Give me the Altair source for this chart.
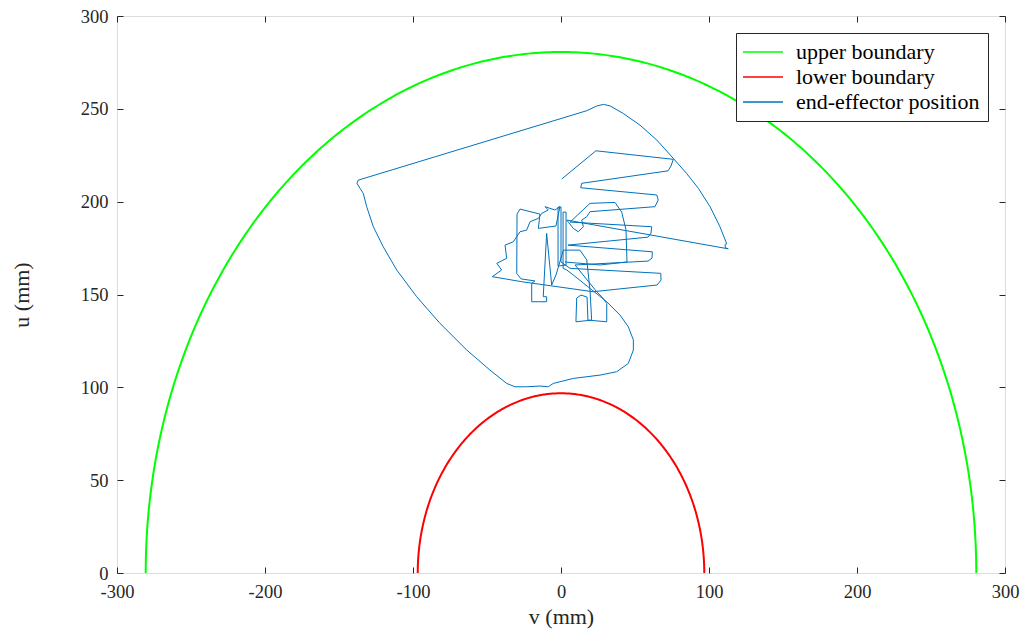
import altair as alt
import numpy as np
import pandas as pd

# ---- data ----
X_TICKS = [-300, -200, -100, 0, 100, 200, 300]
Y_TICKS = [0, 50, 100, 150, 200, 250, 300]
SERIES = ["upper boundary", "lower boundary", "end-effector position"]
COLORS = ["#00FF00", "#FF0000", "#0072BD"]

UPPER_RADIUS = 280.6   # mm, read from the green arc
LOWER_RADIUS = 96.8    # mm, read from the red arc
ARC_DEG = np.linspace(0, 180, 361)

path_v = [0.5, 23.6, 75.9, 74.3, 72.3, 14.0, 13.3, 64.7, 65.7, 63.5,
          19.6, 17.4, 14.0, 15.1, 11.7, 8.3, 3.9,
          113.0, 111.0, 110.9, 112.0, 107.4, 100.7, 92.8, 84.9, 75.9, 64.7,
          53.4, 42.1, 33.1, 28.6, 24.1, 17.4, -137.0, -137.9, -135.8, -133.6,
          -131.3, -126.8, -120.1, -111.0, -97.5, -81.8, -63.7, -48.0, -36.7, -31.1,
          -23.2, -14.2, -8.6, -5.2, 8.3, 26.4, 37.6, 45.5, 48.9, 48.9,
          45.5, 39.9, 30.9, 19.6, 8.3, 3.9,
          1.4, 1.4, 3.4, 3.4, -2.0, -2.0, 0.0, 0.0, 6.1, 67.4,
          67.6, 64.9, 21.6, -26.6, -46.4, -40.1, -43.4, -36.7, -37.8, -32.2,
          -27.7, -23.2, -20.9, -15.3, -13.0, -8.6, -10.8, -4.1, -0.7, -3.4,
          -15.3, -14.2, -27.7, -29.7, -29.9, -27.0, -17.6, -19.8, -19.8, -9.7,
          -9.7, -12.0, -9.7, -6.3, -3.4, 1.6, 12.8, 17.4, 19.6, 20.7,
          10.1, 10.6, 13.5, 17.6, 18.2, 30.9, 30.9, 27.5, 24.1, 9.5,
          58.8, 61.5, 61.7, 4.7, 58.8, 60.8, 61.3, 6.1, 19.6, 36.5,
          41.0, 43.9, 44.6, 26.4, 2.7]
path_u = [212.2, 227.4, 222.8, 219.2, 216.6, 209.9, 207.5, 203.6, 200.9, 197.3,
          194.6, 191.9, 190.1, 186.5, 183.8, 185.6, 190.1,
          174.6, 175.2, 177.0, 177.3, 186.5, 197.3, 207.2, 215.2, 223.3, 233.2,
          241.2, 247.5, 251.6, 252.4, 251.5, 249.0, 211.6, 209.9, 207.2, 204.5,
          197.3, 186.5, 175.7, 163.2, 148.8, 134.5, 120.1, 109.3, 102.1, 100.3,
          100.3, 100.7, 100.3, 102.1, 104.8, 106.6, 108.4, 112.9, 120.1, 125.5,
          132.6, 138.9, 146.1, 153.3, 160.5, 163.2,
          164.2, 194.4, 194.4, 165.9, 165.3, 197.1, 197.1, 167.5, 164.1, 161.4,
          157.8, 155.1, 151.5, 156.9, 159.6, 163.2, 166.8, 169.5, 176.6, 178.4,
          183.8, 184.7, 189.2, 191.0, 193.7, 195.5, 197.3, 195.5, 197.3, 186.9,
          185.6, 193.3, 196.0, 193.3, 161.4, 158.4, 157.3, 156.0, 146.1, 146.1,
          148.8, 148.8, 182.9, 155.1, 160.5, 173.9, 173.9, 168.6, 152.4, 136.2,
          135.3, 148.1, 149.7, 148.6, 136.2, 135.3, 145.2, 148.8, 151.5, 165.9,
          168.0, 169.6, 173.0, 176.6, 180.9, 183.1, 186.5, 189.0, 199.1, 199.6,
          194.4, 184.9, 167.5, 165.9, 167.5]

# ---- tables ----
rad = np.deg2rad(ARC_DEG)
df_upper = pd.DataFrame({"v": UPPER_RADIUS * np.cos(rad), "u": UPPER_RADIUS * np.sin(rad),
                         "series": SERIES[0], "order": np.arange(len(rad))})
df_lower = pd.DataFrame({"v": LOWER_RADIUS * np.cos(rad), "u": LOWER_RADIUS * np.sin(rad),
                         "series": SERIES[1], "order": np.arange(len(rad))})
df_path = pd.DataFrame({"v": path_v, "u": path_u, "series": SERIES[2],
                        "order": np.arange(len(path_v))})

FONT = "Liberation Serif"
TXT = "#262626"
MINUS_FIX = "replace(datum.label, '\u2212', '-')"
xs = alt.Scale(domain=[-300, 300], nice=False, zero=False)
ys = alt.Scale(domain=[0, 300], nice=False, zero=False)

tick_common = dict(offset=-6, tickSize=6, tickColor=TXT, tickWidth=1, domain=False,
                   grid=False, labelFlush=False)

x_enc = alt.X("v:Q", scale=xs, axis=alt.Axis(
    orient="bottom", values=X_TICKS, title="v (mm)", labelPadding=9, labelExpr=MINUS_FIX,
    labelFont=FONT, labelFontSize=18.5, labelColor=TXT,
    titleFont=FONT, titleFontSize=22, titleFontWeight="normal", titleColor=TXT,
    titlePadding=6, **tick_common))
y_enc = alt.Y("u:Q", scale=ys, axis=alt.Axis(
    orient="left", values=Y_TICKS, title="u (mm)", labelPadding=9, labelExpr=MINUS_FIX,
    labelFont=FONT, labelFontSize=18.5, labelColor=TXT,
    titleFont=FONT, titleFontSize=22, titleFontWeight="normal", titleColor=TXT,
    titlePadding=47, **tick_common))
color_enc = alt.Color("series:N", scale=alt.Scale(domain=SERIES, range=COLORS),
                      legend=alt.Legend(
                          title=None, orient="top-right", offset=17,
                          strokeColor=TXT, fillColor="white", padding=8,
                          labelFont=FONT, labelFontSize=22, labelColor="black",
                          labelLimit=400, symbolType="M-2,0H2", symbolSize=400,
                          symbolStrokeWidth=1.6, symbolOffset=8, labelOffset=22,
                          rowPadding=3))

upper = alt.Chart(df_upper).mark_line(strokeWidth=2, clip=True).encode(
    x=x_enc, y=y_enc, color=color_enc, order="order:Q")
lower = alt.Chart(df_lower).mark_line(strokeWidth=2, clip=True).encode(
    x=x_enc, y=y_enc, color=color_enc, order="order:Q")
path = alt.Chart(df_path).mark_line(strokeWidth=1, clip=True).encode(
    x=x_enc, y=y_enc, color=color_enc, order="order:Q")
main = alt.layer(upper, lower, path)

ticks = alt.Chart(df_upper).mark_line(opacity=0).encode(
    x=alt.X("v:Q", scale=xs, axis=alt.Axis(orient="top", values=X_TICKS, labels=False,
                                           title=None, **tick_common)),
    y=alt.Y("u:Q", scale=ys, axis=alt.Axis(orient="right", values=Y_TICKS, labels=False,
                                           title=None, **tick_common)),
    order="order:Q",
)

chart = alt.layer(main, ticks).resolve_scale(x="independent", y="independent").properties(
    width=888, height=557,
    autosize=alt.AutoSizeParams(type="none"),
    padding={"left": 109, "top": 8, "right": 15, "bottom": 56},
).configure_view(stroke=TXT, strokeWidth=1).configure(background="white")

chart.save("out.html", embed_options={"renderer": "svg", "actions": False})
